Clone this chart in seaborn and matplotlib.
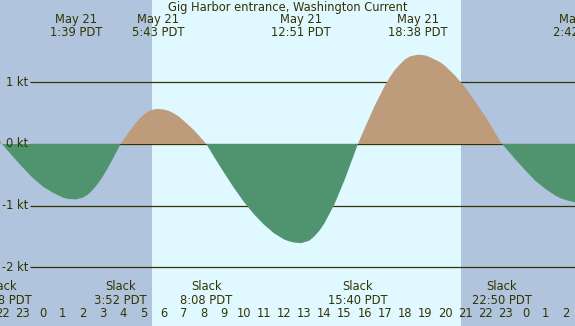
import numpy as np
import matplotlib
matplotlib.use("Agg")
import matplotlib.pyplot as plt
import seaborn as sns

# current speed (kt), hours since May 21 00:00 PDT
hours = [-2.5, -2.033, -2.0, -1.5, -1.0, -0.5, 0.0, 0.5, 0.75, 1.0, 1.25, 1.65,
         2.0, 2.25, 2.5, 2.75, 3.0, 3.25, 3.5, 3.867, 4.0, 4.25, 4.5, 4.75,
         5.0, 5.25, 5.5, 5.717, 6.0, 6.25, 6.5, 6.75, 7.0, 7.5, 8.0, 8.133,
         8.5, 9.0, 9.5, 10.0, 10.5, 11.0, 11.5, 11.75, 12.0, 12.25, 12.5,
         12.85, 13.25, 13.5, 13.75, 14.0, 14.5, 15.0, 15.5, 15.667, 16.0,
         16.5, 17.0, 17.25, 17.5, 17.75, 18.0, 18.25, 18.633, 19.0, 19.25,
         19.5, 19.75, 20.0, 20.5, 21.0, 21.5, 22.0, 22.5, 22.833, 23.0, 23.5,
         24.0, 24.5, 25.0, 25.5, 25.75, 26.0, 26.25, 26.5]
speed = [0.30, 0.0, -0.01, -0.20, -0.38, -0.55, -0.69, -0.79, -0.83, -0.87,
         -0.89, -0.90, -0.87, -0.82, -0.74, -0.64, -0.52, -0.38, -0.23, 0.0,
         0.06, 0.18, 0.29, 0.39, 0.47, 0.53, 0.56, 0.57, 0.56, 0.54, 0.50,
         0.45, 0.38, 0.23, 0.05, 0.0, -0.20, -0.46, -0.71, -0.94, -1.14,
         -1.31, -1.45, -1.50, -1.55, -1.58, -1.60, -1.61, -1.57, -1.50, -1.41,
         -1.29, -0.98, -0.59, -0.15, 0.0, 0.25, 0.62, 0.94, 1.08, 1.20, 1.29,
         1.37, 1.42, 1.45, 1.44, 1.41, 1.37, 1.33, 1.27, 1.11, 0.92, 0.69,
         0.45, 0.18, 0.0, -0.06, -0.25, -0.43, -0.60, -0.73, -0.84, -0.88,
         -0.91, -0.93, -0.95]

slack_times = [-2.033, 3.867, 8.133, 15.667, 22.833]
slack_labels = ["21:58 PDT", "3:52 PDT", "8:08 PDT", "15:40 PDT", "22:50 PDT"]
peak_times = [1.65, 5.717, 12.85, 18.633, 26.7]
peak_dates = ["May 21", "May 21", "May 21", "May 21", "May 22"]
peak_labels = ["1:39 PDT", "5:43 PDT", "12:51 PDT", "18:38 PDT", "2:42 PDT"]
sunrise, sunset = 5.43, 20.8
hour_ticks = list(range(-2, 27))
kt_levels = [1, 0, -1, -2]

NIGHT = "#b0c4de"
DAY = "#e0f8ff"
FLOOD = "#bd9b7b"
EBB = "#4f946f"
INK = "#333300"
FS = 8.3

sns.set_theme(style="white")
plt.rcParams["font.family"] = ["DejaVu Sans"]

W, H = 575, 326
fig = plt.figure(figsize=(W / 100, H / 100), dpi=100)
ax = fig.add_axes([0, 0, 1, 1])
ax.set_xlim(-2.128, 26.464)
ax.set_ylim(-2.955, 2.338)

# day / night background
ax.set_facecolor(NIGHT)
ax.axvspan(sunrise, sunset, color=DAY, lw=0, zorder=0)

# speed grid lines and labels
ax.hlines(kt_levels, 30 / W, 1, transform=ax.get_yaxis_transform(),
          color=INK, lw=0.9, zorder=2)
for lvl in kt_levels:
    ax.text(28 / W, lvl, f"{lvl} kt", transform=ax.get_yaxis_transform(),
            ha="right", va="center", fontsize=FS, color=INK, zorder=5)

# flood / ebb areas
sp = np.array(speed)
ax.fill_between(hours, sp, 0, where=sp >= 0, interpolate=True,
                color=FLOOD, lw=0, zorder=3)
ax.fill_between(hours, sp, 0, where=sp <= 0, interpolate=True,
                color=EBB, lw=0, zorder=3)

# hour ticks along the bottom, drawn inside
ax.set_yticks([])
ax.set_xticks(hour_ticks)
ax.set_xticklabels([str(h % 24) for h in hour_ticks])
ax.tick_params(axis="x", which="major", direction="in", length=5.8, width=0.8,
               color=INK, labelsize=FS, labelcolor=INK, pad=-14)
for tk, h in zip(ax.xaxis.get_major_ticks(), hour_ticks):
    if h % 24 == 0:
        tk.tick1line.set_markeredgewidth(2.4)
ax.set_xticks(slack_times, minor=True)
ax.tick_params(axis="x", which="minor", direction="in", length=5.8, width=1.0,
               color="red")

# event labels
xt = ax.get_xaxis_transform()
for t, d, lab in zip(peak_times, peak_dates, peak_labels):
    ax.text(t, 1 - 19 / H, d, transform=xt, ha="center", va="center",
            fontsize=FS, color=INK, zorder=5)
    ax.text(t, 1 - 32 / H, lab, transform=xt, ha="center", va="center",
            fontsize=FS, color=INK, zorder=5)
for t, lab in zip(slack_times, slack_labels):
    ax.text(t, 1 - 287 / H, "Slack", transform=xt, ha="center", va="center",
            fontsize=FS, color=INK, zorder=5)
    ax.text(t, 1 - 300 / H, lab, transform=xt, ha="center", va="center",
            fontsize=FS, color=INK, zorder=5)

ax.text(0.5, 1 - 7 / H, "Gig Harbor entrance, Washington Current",
        transform=ax.transAxes, ha="center", va="center", fontsize=FS,
        color=INK, zorder=5)

sns.despine(ax=ax, left=True, bottom=True)
fig.savefig("out.png", dpi=100)
